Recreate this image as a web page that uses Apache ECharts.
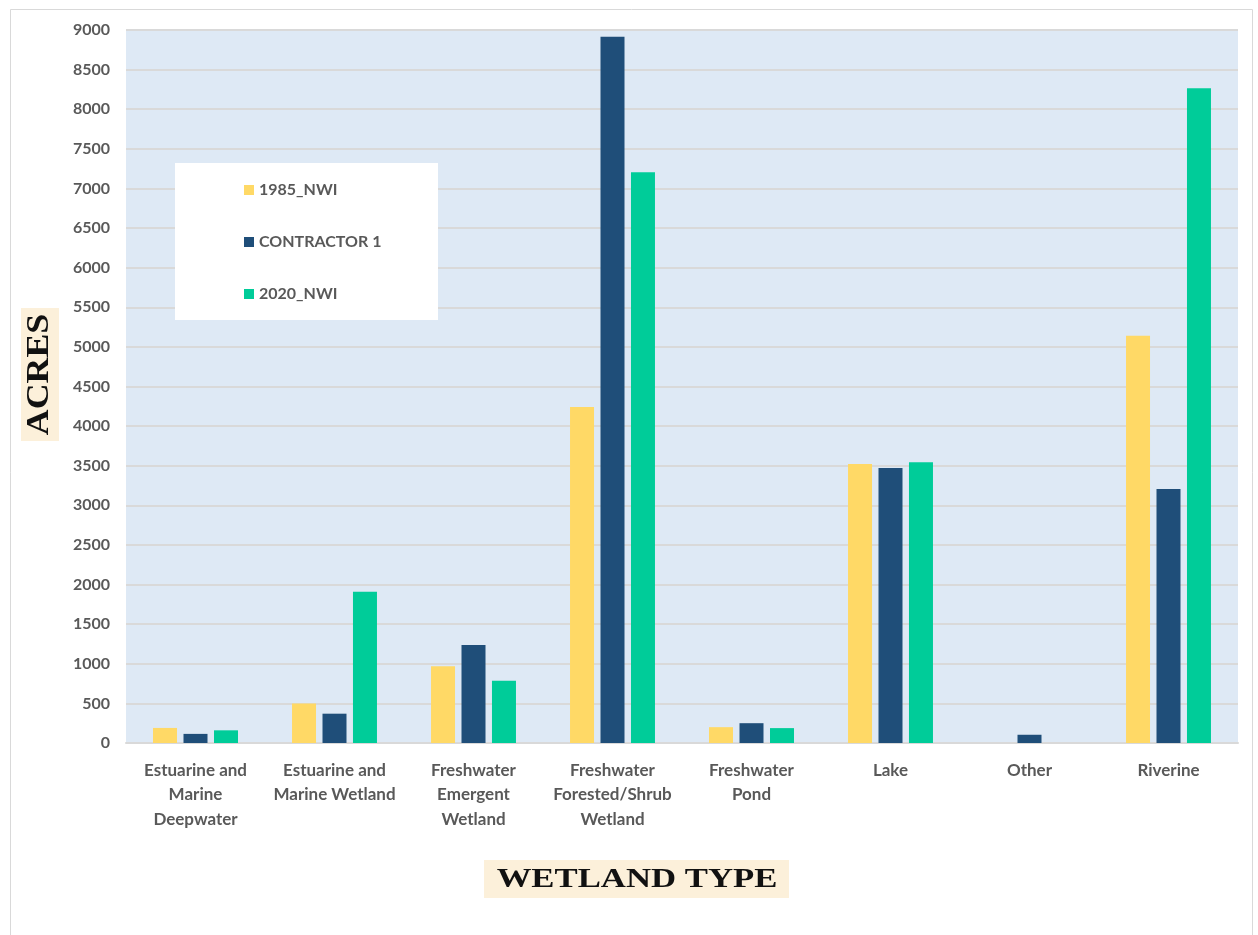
<!DOCTYPE html>
<html>
<head>
<meta charset="utf-8">
<script src="https://cdn.jsdelivr.net/npm/echarts@6/dist/echarts.min.js"></script>
<style>
html,body{margin:0;padding:0;background:#fff;}
#chart{width:1258px;height:935px;}
</style>
</head>
<body>
<div id="chart"></div>
<script>
var categories = [
  'Estuarine and\nMarine\nDeepwater',
  'Estuarine and\nMarine Wetland',
  'Freshwater\nEmergent\nWetland',
  'Freshwater\nForested/Shrub\nWetland',
  'Freshwater\nPond',
  'Lake',
  'Other',
  'Riverine'
];
var seriesNames = ['1985_NWI', 'CONTRACTOR 1', '2020_NWI'];
var nwi1985 = [190, 500, 970, 4240, 200, 3522, 0, 5140];
var contractor1 = [115, 370, 1237, 8915, 250, 3472, 104, 3205];
var nwi2020 = [160, 1908, 785, 7205, 188, 3545, 0, 8265];
var yTicks = [0, 9000, 500];

var colors = ['#FFD966', '#1F4E79', '#00CC99'];
var chart = echarts.init(document.getElementById('chart'));

function bar(name, data, color) {
  return {
    name: name,
    type: 'bar',
    data: data,
    barWidth: 24,
    barGap: '27%',
    itemStyle: { color: color }
  };
}

chart.setOption({
  backgroundColor: '#ffffff',
  animation: false,
  grid: {
    left: 126, right: 20, top: 30, bottom: 192,
    show: true, backgroundColor: '#DEE9F5', borderWidth: 0
  },
  legend: {
    orient: 'vertical',
    left: 244, top: 182,
    padding: 0,
    itemWidth: 10, itemHeight: 10,
    itemGap: 36,
    icon: 'rect',
    z: 5,
    textStyle: { color: '#595959', fontSize: 16, fontWeight: 'bold', fontFamily: 'Lato, "Open Sans", sans-serif' },
    data: seriesNames
  },
  xAxis: {
    type: 'category',
    data: categories,
    axisTick: { show: false },
    axisLine: { lineStyle: { color: '#D9D9D9', width: 2 } },
    axisLabel: {
      color: '#595959', fontSize: 17, fontWeight: 'bold', lineHeight: 24.5,
      fontFamily: 'Lato, "Open Sans", sans-serif', margin: 15, interval: 0
    }
  },
  yAxis: {
    type: 'value',
    min: yTicks[0], max: yTicks[1], interval: yTicks[2],
    axisLine: { show: false },
    axisTick: { show: false },
    splitLine: { lineStyle: { color: '#D9D9D9', width: 2 } },
    axisLabel: {
      color: '#595959', fontSize: 16, fontWeight: 'bold', margin: 16,
      fontFamily: 'Lato, "Open Sans", sans-serif',
      formatter: function (v) { return String(v); }
    }
  },
  graphic: [
    { type: 'rect', left: 8, top: 7, z: -10, silent: true,
      shape: { width: 1242, height: 960 },
      style: { fill: 'none', stroke: '#D9D9D9', lineWidth: 1 } },
    { type: 'rect', left: 175, top: 163, z: 3, silent: true,
      shape: { width: 263, height: 157 },
      style: { fill: '#ffffff' } },
    { type: 'rect', left: 21, top: 308, z: 3, silent: true,
      shape: { width: 38, height: 133 },
      style: { fill: '#FCF0DA' } },
    { type: 'text', x: 40, y: 374.5, rotation: Math.PI / 2, scaleX: 1.12, z: 4, silent: true,
      style: { text: 'ACRES', fill: '#111', font: 'bold 32px "Liberation Serif", serif',
               textAlign: 'center', textVerticalAlign: 'middle' } },
    { type: 'rect', left: 484, top: 860, z: 3, silent: true,
      shape: { width: 305, height: 38 },
      style: { fill: '#FCF0DA' } },
    { type: 'text', x: 637, y: 880, scaleX: 1.24, z: 4, silent: true,
      style: { text: 'WETLAND TYPE', fill: '#111', font: 'bold 28px "Liberation Serif", serif',
               textAlign: 'center', textVerticalAlign: 'middle' } }
  ],
  series: [
    bar(seriesNames[0], nwi1985, colors[0]),
    bar(seriesNames[1], contractor1, colors[1]),
    bar(seriesNames[2], nwi2020, colors[2])
  ]
});
</script>
</body>
</html>
